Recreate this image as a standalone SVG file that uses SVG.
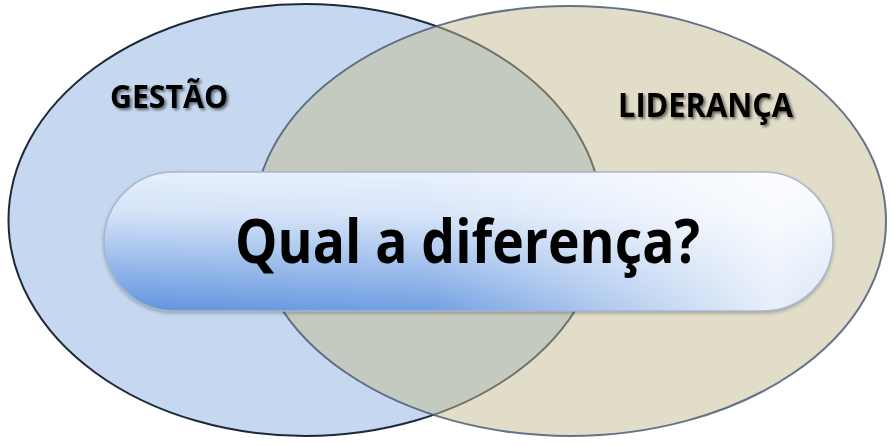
<svg xmlns="http://www.w3.org/2000/svg" width="894" height="446" viewBox="0 0 894 446">
  <defs>
    <linearGradient id="pillV" x1="0" y1="0" x2="0" y2="1">
      <stop offset="0" stop-color="#e6effc"/>
      <stop offset="0.3" stop-color="#d3e2f8"/>
      <stop offset="1" stop-color="#5f93de"/>
    </linearGradient>
    <linearGradient id="pillH" x1="0" y1="0" x2="1" y2="0">
      <stop offset="0" stop-color="#ffffff" stop-opacity="0"/>
      <stop offset="0.45" stop-color="#ffffff" stop-opacity="0.12"/>
      <stop offset="0.75" stop-color="#ffffff" stop-opacity="0.6"/>
      <stop offset="0.92" stop-color="#ffffff" stop-opacity="0.85"/>
      <stop offset="1" stop-color="#ffffff" stop-opacity="0.75"/>
    </linearGradient>
    <filter id="tshadow" x="-10%" y="-20%" width="130%" height="160%">
      <feGaussianBlur in="SourceAlpha" stdDeviation="1.8"/>
      <feOffset dx="1.5" dy="2"/>
      <feComponentTransfer><feFuncA type="linear" slope="0.55"/></feComponentTransfer>
      <feMerge><feMergeNode/><feMergeNode in="SourceGraphic"/></feMerge>
    </filter>
    <filter id="pshadow" x="-5%" y="-10%" width="110%" height="130%">
      <feGaussianBlur in="SourceAlpha" stdDeviation="2"/>
      <feOffset dx="0" dy="2"/>
      <feComponentTransfer><feFuncA type="linear" slope="0.3"/></feComponentTransfer>
      <feMerge><feMergeNode/><feMergeNode in="SourceGraphic"/></feMerge>
    </filter>
  </defs>
  <style>
    .lbl { font-family: "Open Sans", "Liberation Sans", sans-serif; font-weight: bold; fill: #000; }
  </style>
  <rect width="894" height="446" fill="#ffffff"/>
  <g id="gestao">
    <ellipse cx="305.5" cy="220" rx="297" ry="216" fill="#c5d8ef" stroke="#1e2838" stroke-width="2"/>
  </g>
  <g id="lideranca">
    <ellipse cx="570" cy="221" rx="316" ry="215" fill="#c5bb93" fill-opacity="0.5" stroke="#4a5d78" stroke-width="2" stroke-opacity="0.85"/>
  </g>
  <g id="labels">
    <text class="lbl" x="110" y="108" font-size="32" textLength="118" lengthAdjust="spacingAndGlyphs" filter="url(#tshadow)">GESTÃO</text>
    <text class="lbl" x="618" y="117" font-size="34" textLength="175" lengthAdjust="spacingAndGlyphs" filter="url(#tshadow)">LIDERANÇA</text>
  </g>
  <g id="pergunta">
    <g filter="url(#pshadow)">
      <rect x="104" y="172" width="729" height="139" rx="69.5" ry="69.5" fill="url(#pillV)"/>
    </g>
    <rect x="104" y="172" width="729" height="139" rx="69.5" ry="69.5" fill="url(#pillH)" stroke="#a9b7cb" stroke-width="1.5"/>
    <text class="lbl" x="235" y="263" font-size="60" textLength="465" lengthAdjust="spacingAndGlyphs">Qual a diferença?</text>
  </g>
</svg>
